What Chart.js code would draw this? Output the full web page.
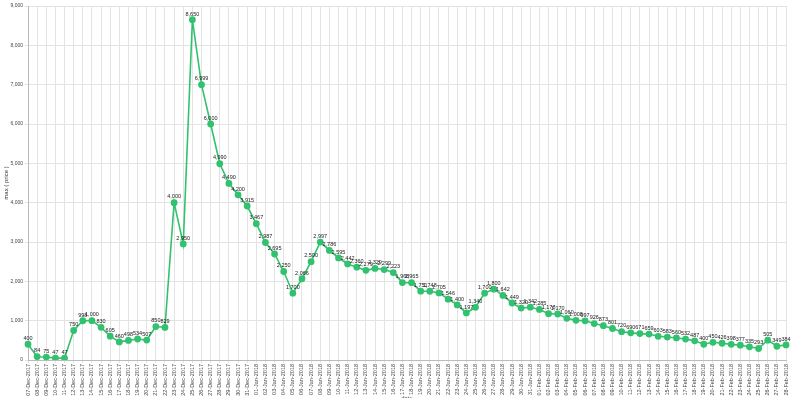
<!DOCTYPE html>
<html>
<head>
<meta charset="utf-8">
<script src="https://cdn.jsdelivr.net/npm/chart.js@4/dist/chart.umd.min.js"></script>
<style>
html,body{margin:0;padding:0;background:#fff;}
#c{display:block;}
</style>
</head>
<body>
<canvas id="c" width="800" height="398"></canvas>
<script>
const dates = [
"07-Dec-2017","08-Dec-2017","09-Dec-2017","10-Dec-2017","11-Dec-2017","12-Dec-2017","13-Dec-2017","14-Dec-2017","15-Dec-2017","16-Dec-2017",
"17-Dec-2017","18-Dec-2017","19-Dec-2017","20-Dec-2017","21-Dec-2017","22-Dec-2017","23-Dec-2017","24-Dec-2017","25-Dec-2017","26-Dec-2017",
"27-Dec-2017","28-Dec-2017","29-Dec-2017","30-Dec-2017","31-Dec-2017","01-Jan-2018","02-Jan-2018","03-Jan-2018","04-Jan-2018","05-Jan-2018",
"06-Jan-2018","07-Jan-2018","08-Jan-2018","09-Jan-2018","10-Jan-2018","11-Jan-2018","12-Jan-2018","13-Jan-2018","14-Jan-2018","15-Jan-2018",
"16-Jan-2018","17-Jan-2018","18-Jan-2018","19-Jan-2018","20-Jan-2018","21-Jan-2018","22-Jan-2018","23-Jan-2018","24-Jan-2018","25-Jan-2018",
"26-Jan-2018","27-Jan-2018","28-Jan-2018","29-Jan-2018","30-Jan-2018","31-Jan-2018","01-Feb-2018","02-Feb-2018","03-Feb-2018","04-Feb-2018",
"05-Feb-2018","06-Feb-2018","07-Feb-2018","08-Feb-2018","09-Feb-2018","10-Feb-2018","11-Feb-2018","12-Feb-2018","13-Feb-2018","14-Feb-2018",
"15-Feb-2018","16-Feb-2018","17-Feb-2018","18-Feb-2018","19-Feb-2018","20-Feb-2018","21-Feb-2018","22-Feb-2018","23-Feb-2018","24-Feb-2018",
"25-Feb-2018","26-Feb-2018","27-Feb-2018","28-Feb-2018"
];
const maxPrice = [
400,84,75,47,47,750,998,1000,830,605,
460,498,534,507,850,829,4000,2950,8650,6999,
6000,4990,4490,4200,3915,3467,2987,2695,2250,1700,
2066,2500,2997,2786,2595,2442,2360,2279,2329,2299,
2223,1968,1965,1751,1748,1705,1546,1400,1197,1340,
1700,1800,1642,1449,1320,1342,1285,1178,1170,1060,
1008,997,926,873,801,720,690,671,659,603,
583,560,532,487,400,450,426,398,377,335,
293,505,349,384
];
const yTicks = [0,1000,2000,3000,4000,5000,6000,7000,8000,9000];

const fmt = v => Number(v).toLocaleString('en-US');

const valueLabels = {
  id: 'valueLabels',
  afterDatasetsDraw(chart) {
    const ctx = chart.ctx;
    const meta = chart.getDatasetMeta(0);
    ctx.save();
    ctx.font = '5.5px "Liberation Sans", Arial, sans-serif';
    ctx.fillStyle = '#222';
    ctx.textAlign = 'center';
    ctx.textBaseline = 'bottom';
    meta.data.forEach((pt, i) => {
      ctx.fillText(fmt(chart.data.datasets[0].data[i]), pt.x, pt.y - 3);
    });
    ctx.restore();
  }
};

new Chart(document.getElementById('c'), {
  type: 'line',
  data: {
    labels: dates,
    datasets: [{
      label: 'max ( price )',
      data: maxPrice,
      borderColor: '#32c26f',
      backgroundColor: '#32c26f',
      borderWidth: 1.6,
      pointRadius: 2.6,
      pointBackgroundColor: '#32c26f',
      pointBorderColor: '#32c26f',
      tension: 0,
      fill: false
    }]
  },
  options: {
    responsive: false,
    animation: false,
    devicePixelRatio: 1,
    layout: { padding: { top: 6, right: 14, left: 3, bottom: 0 } },
    plugins: {
      legend: { display: false },
      tooltip: { enabled: false }
    },
    scales: {
      x: {
        offset: false,
        grid: { color: '#e3e3e3', lineWidth: 1, tickLength: 3 },
        border: { color: '#bbb' },
        afterFit: axis => { axis.height = 38; },
        ticks: {
          autoSkip: false,
          maxRotation: 90,
          minRotation: 90,
          padding: 1,
          color: '#444',
          font: { size: 5.5, family: '"Liberation Sans", Arial, sans-serif' }
        },
        title: {
          display: true,
          text: 'date',
          color: '#444',
          padding: { top: 0, bottom: -4 },
          font: { size: 6, family: '"Liberation Sans", Arial, sans-serif' }
        }
      },
      y: {
        min: 0,
        max: 9000,
        afterBuildTicks: axis => { axis.ticks = yTicks.map(v => ({ value: v })); },
        afterFit: axis => { axis.width = 25; },
        grid: { color: '#e3e3e3', lineWidth: 1, tickLength: 3 },
        border: { color: '#bbb' },
        ticks: {
          padding: 2,
          color: '#444',
          callback: v => fmt(v),
          font: { size: 5, family: '"Liberation Sans", Arial, sans-serif' }
        },
        title: {
          display: true,
          text: 'max ( price )',
          color: '#333',
          padding: { top: 0, bottom: 0 },
          font: { size: 6, family: '"Liberation Sans", Arial, sans-serif' }
        }
      }
    }
  },
  plugins: [valueLabels]
});
</script>
</body>
</html>
